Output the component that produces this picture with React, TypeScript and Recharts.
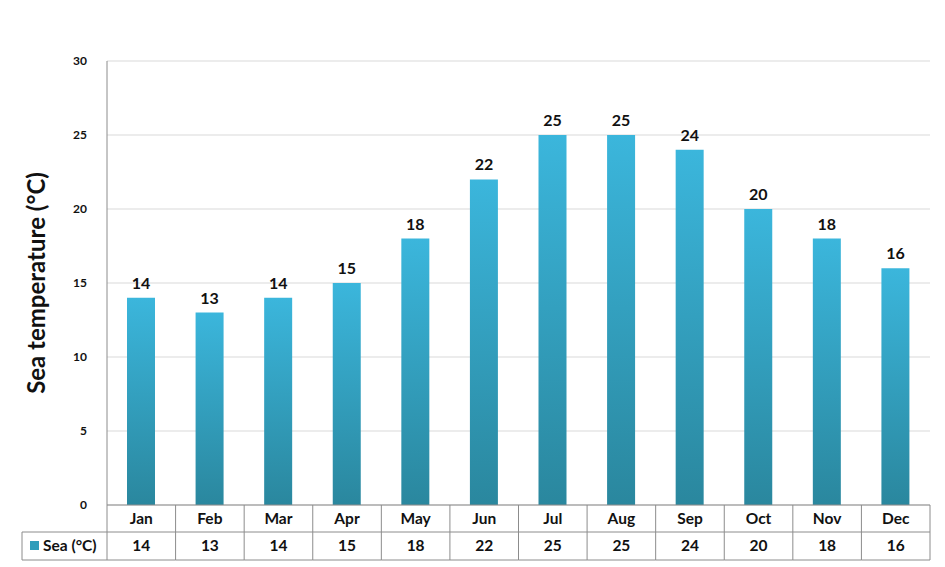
import React from 'react';
import { BarChart, Bar, XAxis, YAxis, CartesianGrid, LabelList } from 'recharts';

// Average sea temperature per month
const months = ['Jan', 'Feb', 'Mar', 'Apr', 'May', 'Jun', 'Jul', 'Aug', 'Sep', 'Oct', 'Nov', 'Dec'];
const seaTemps = [14, 13, 14, 15, 18, 22, 25, 25, 24, 20, 18, 16];
const yTicks = [0, 5, 10, 15, 20, 25, 30];
const seriesName = 'Sea (°C)';

const data = months.map((m, i) => ({ month: m, sea: seaTemps[i] }));

const FONT = 'Lato, "Open Sans", "Liberation Sans", sans-serif';
const LINE = '#8c8c8c';
const ROW = 27;

// Draws the data table cell under each category (month row + value row)
const TableTick = (props: any) => {
  const { x, y, payload, index } = props;
  const half = payload && payload.offset ? payload.offset : 34.3;
  const left = x - half;
  const right = x + half;
  const row1 = y + ROW;
  const row2 = y + ROW * 2 + 1;
  return (
    <g>
      <line x1={right} y1={y} x2={right} y2={row2} stroke={LINE} />
      <line x1={left} y1={row1} x2={right} y2={row1} stroke={LINE} />
      <line x1={left} y1={row2} x2={right} y2={row2} stroke={LINE} />
      <text x={x} y={y + 19} textAnchor="middle" fontFamily={FONT} fontWeight={700} fontSize={15.5} fill="#111">
        {payload.value}
      </text>
      <text x={x} y={row1 + 19} textAnchor="middle" fontFamily={FONT} fontWeight={700} fontSize={15.5} fill="#111">
        {seaTemps[index]}
      </text>
      {index === 0 && (
        <g>
          <line x1={left} y1={y} x2={left} y2={row2} stroke={LINE} />
          <line x1={22} y1={row1} x2={left} y2={row1} stroke={LINE} />
          <line x1={22} y1={row2} x2={left} y2={row2} stroke={LINE} />
          <line x1={22} y1={row1} x2={22} y2={row2} stroke={LINE} />
          <rect x={30} y={row1 + 9} width={9} height={9} fill="#2f9dba" />
          <text x={43} y={row1 + 19} fontFamily={FONT} fontWeight={700} fontSize={15.5} fill="#111">
            {seriesName}
          </text>
        </g>
      )}
    </g>
  );
};

const YTitle = (props: any) => {
  const vb = props.viewBox || { x: 0, y: 0, height: 0 };
  const cx = 35;
  const cy = vb.y + vb.height / 2;
  return (
    <text
      x={cx}
      y={cy}
      transform={`rotate(-90, ${cx}, ${cy})`}
      textAnchor="middle"
      dominantBaseline="central"
      fontFamily={FONT}
      fontWeight={700}
      fontSize={24}
      fill="#111"
    >
      Sea temperature (°C)
    </text>
  );
};

const App: React.FC = () => {
  return (
    <div style={{ position: 'absolute', left: 0, top: 0, width: 945, height: 567, background: '#fff' }}>
      <BarChart
        width={945}
        height={567}
        data={data}
        margin={{ top: 61, right: 15, left: 22, bottom: 0 }}
      >
        <defs>
          <linearGradient id="seaGrad" x1="0" y1="0" x2="0" y2="1">
            <stop offset="0%" stopColor="#3bb6dc" />
            <stop offset="100%" stopColor="#2a879e" />
          </linearGradient>
        </defs>
        <CartesianGrid vertical={false} stroke="#d9d9d9" />
        <XAxis
          dataKey="month"
          height={62}
          axisLine={{ stroke: LINE }}
          tickLine={false}
          tickSize={0}
          tickMargin={0}
          interval={0}
          tick={<TableTick />}
        />
        <YAxis
          width={85}
          domain={[0, 30]}
          ticks={yTicks}
          axisLine={{ stroke: LINE }}
          tickLine={false}
          tickMargin={14}
          tick={{ fontFamily: FONT, fontWeight: 700, fontSize: 12, fill: '#111' }}
          label={<YTitle />}
        />
        <Bar dataKey="sea" name={seriesName} fill="url(#seaGrad)" barSize={28} isAnimationActive={false}>
          <LabelList
            dataKey="sea"
            position="top"
            offset={9}
            style={{ fontFamily: FONT, fontWeight: 700, fontSize: 16, fill: '#111' }}
          />
        </Bar>
      </BarChart>
    </div>
  );
};

export default App;
